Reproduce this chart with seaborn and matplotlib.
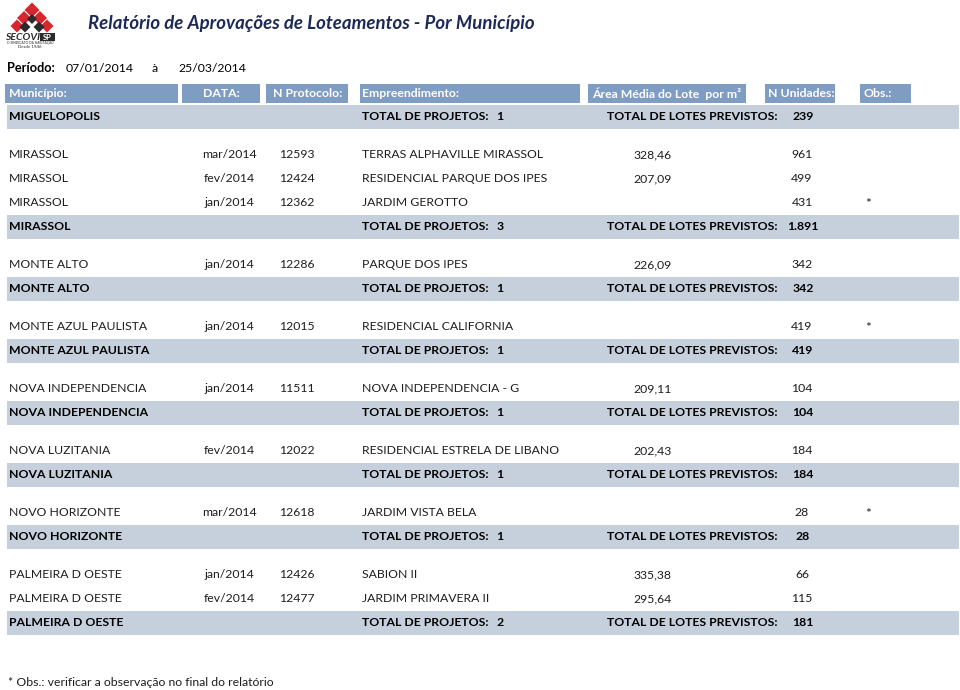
import matplotlib.pyplot as plt
import seaborn as sns
from matplotlib.patches import Polygon, Rectangle

# ---- report data ----
header_labels = ["Município:", "DATA:", "N Protocolo:", "Empreendimento:",
                 "Área Média do Lote  por m²", "N Unidades:", "Obs.:"]

municipios = ["MIGUELOPOLIS", "MIRASSOL", "MONTE ALTO", "MONTE AZUL PAULISTA",
              "NOVA INDEPENDENCIA", "NOVA LUZITANIA", "NOVO HORIZONTE", "PALMEIRA D OESTE"]
total_projetos = ["1", "3", "1", "1", "1", "1", "1", "2"]
total_lotes = ["239", "1.891", "342", "419", "104", "184", "28", "181"]

det_municipio = ["MIRASSOL", "MIRASSOL", "MIRASSOL", "MONTE ALTO", "MONTE AZUL PAULISTA",
                 "NOVA INDEPENDENCIA", "NOVA LUZITANIA", "NOVO HORIZONTE",
                 "PALMEIRA D OESTE", "PALMEIRA D OESTE"]
det_data = ["mar/2014", "fev/2014", "jan/2014", "jan/2014", "jan/2014",
            "jan/2014", "fev/2014", "mar/2014", "jan/2014", "fev/2014"]
det_protocolo = ["12593", "12424", "12362", "12286", "12015",
                 "11511", "12022", "12618", "12426", "12477"]
det_empreend = ["TERRAS ALPHAVILLE MIRASSOL", "RESIDENCIAL PARQUE DOS IPES", "JARDIM GEROTTO",
                "PARQUE DOS IPES", "RESIDENCIAL CALIFORNIA", "NOVA INDEPENDENCIA - G",
                "RESIDENCIAL ESTRELA DE LIBANO", "JARDIM VISTA BELA", "SABION II",
                "JARDIM PRIMAVERA II"]
det_area = ["328,46", "207,09", "", "226,09", "", "209,11", "202,43", "", "335,38", "295,64"]
det_unidades = ["961", "499", "431", "342", "419", "104", "184", "28", "66", "115"]
det_obs = ["", "", "*", "", "*", "", "", "*", "", ""]

periodo_ini = "07/01/2014"
periodo_fim = "25/03/2014"

# ---- style ----
sns.set_theme(style="white")
plt.rcParams['font.family'] = ['Lato', 'DejaVu Sans']

HEAD_BLUE = "#7f9cc3"
BAND_GRAY = "#c6d0dc"
TXT = "#1e1e1e"
TITLE_BLUE = "#1d2a57"
FS = 8.8

fig = plt.figure(figsize=(9.6, 6.9), dpi=100)
ax = fig.add_axes([0, 0, 1, 1])
ax.set_xlim(0, 960)
ax.set_ylim(690, 0)
ax.axis("off")

# ---- logo (rough SECOVI mark) ----
red = "#d7262e"
dark = "#2b2b2b"
for cx, cy, c, s in [(32, 10, red, 7.5), (24, 18, red, 7), (40, 18, red, 7),
                     (32, 19, dark, 5), (17, 26, red, 6.5), (47, 26, red, 6.5),
                     (25, 27, dark, 5.5), (39, 27, dark, 5.5)]:
    ax.add_patch(Polygon([(cx, cy - s), (cx + s, cy), (cx, cy + s), (cx - s, cy)],
                         closed=True, color=c, lw=0))
ax.add_patch(Polygon([(26, 34), (32, 27), (38, 34)], closed=True, color="white", lw=0))
ax.text(5, 37, "SECOVI", fontsize=7.5, fontweight="bold", fontstyle="italic",
        color=dark, va="center", ha="left")
ax.add_patch(Rectangle((40, 33), 15, 8, color=dark, lw=0))
ax.text(47.5, 37, "SP", fontsize=5.5, fontweight="bold", color="white", va="center", ha="center")
ax.text(30, 42.5, "O SINDICATO DA HABITAÇÃO", fontsize=2.4, color=dark, va="center", ha="center")
ax.text(30, 47.5, "Desde 1946", fontsize=3.2, color=dark, va="center", ha="center")

# ---- title and period ----
ax.text(88, 23, "Relatório de Aprovações de Loteamentos - Por Município",
        fontsize=13.4, fontweight="bold", fontstyle="italic", color=TITLE_BLUE,
        va="center", ha="left")
ax.text(7, 68, "Período:", fontsize=FS + 0.4, fontweight="bold", color="black", va="center")
ax.text(66, 68, periodo_ini, fontsize=FS, color="black", va="center")
ax.text(152, 69, "à", fontsize=FS, color="black", va="center")
ax.text(178, 68, periodo_fim, fontsize=FS, color="black", va="center")

# ---- header boxes ----
head_boxes = [(5, 178), (182, 260), (266, 348), (360, 580), (588, 746), (765, 835), (860, 911)]
head_text_x = [9, None, 273, 362, 592, 768, 863]
for (x0, x1), lbl, tx in zip(head_boxes, header_labels, head_text_x):
    ax.add_patch(Rectangle((x0, 84), x1 - x0, 19, color=HEAD_BLUE, lw=0))
    if tx is None:
        ax.text((x0 + x1) / 2, 93.5, lbl, fontsize=FS, fontweight="bold", color="white",
                va="center", ha="center")
    else:
        ax.text(tx, 93.5, lbl, fontsize=FS, fontweight="bold", color="white",
                va="center", ha="left")

# ---- rows ----
PITCH = 24
GAP = 38
y_band = 116.7
for gi, mun in enumerate(municipios):
    rows = [i for i, m in enumerate(det_municipio) if m == mun]
    if gi > 0:
        y = y_band + GAP
        for i in rows:
            ax.text(9, y, det_municipio[i], fontsize=FS, color=TXT, va="center")
            ax.text(229, y, det_data[i], fontsize=FS, color=TXT, va="center", ha="center")
            ax.text(279, y, det_protocolo[i], fontsize=FS, color=TXT, va="center")
            ax.text(362, y, det_empreend[i], fontsize=FS, color=TXT, va="center")
            ax.text(653, y, det_area[i], fontsize=FS, color=TXT, va="center", ha="center")
            ax.text(802, y, det_unidades[i], fontsize=FS, color=TXT, va="center", ha="center")
            ax.text(868, y + 1, det_obs[i], fontsize=FS + 1, color=TXT, va="center", ha="center")
            y += PITCH
        y_band = y
    ax.add_patch(Rectangle((7, y_band - 11.7), 952, 23.5, color=BAND_GRAY, lw=0))
    ax.text(9, y_band, mun, fontsize=FS, fontweight="bold", color="black", va="center")
    ax.text(362, y_band, "TOTAL DE PROJETOS:", fontsize=FS, fontweight="bold",
            color="black", va="center")
    ax.text(500, y_band, total_projetos[gi], fontsize=FS, fontweight="bold",
            color="black", va="center", ha="center")
    ax.text(607, y_band, "TOTAL DE LOTES PREVISTOS:", fontsize=FS, fontweight="bold",
            color="black", va="center")
    ax.text(803, y_band, total_lotes[gi], fontsize=FS, fontweight="bold",
            color="black", va="center", ha="center")

ax.text(8, 683, "* Obs.: verificar a observação no final do relatório",
        fontsize=FS, color=TXT, va="center")

fig.savefig("out.png", dpi=100)
plt.close(fig)
